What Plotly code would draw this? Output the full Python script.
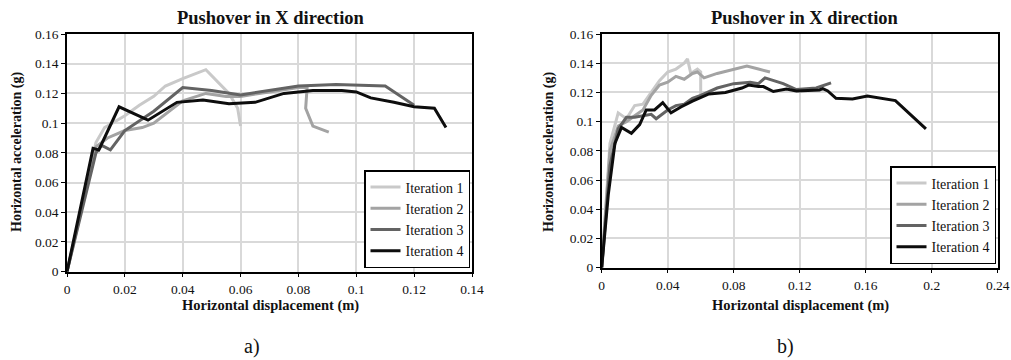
import plotly.graph_objects as go

# ---- Data: panel a) ----
a1_x = [0, 0.010, 0.013, 0.020, 0.025, 0.030, 0.034, 0.040, 0.048, 0.052, 0.056, 0.059, 0.060]
a1_y = [0, 0.087, 0.097, 0.105, 0.112, 0.118, 0.125, 0.130, 0.136, 0.128, 0.120, 0.110, 0.098]
a2_x = [0, 0.010, 0.014, 0.020, 0.026, 0.030, 0.040, 0.048, 0.055, 0.060, 0.070, 0.080, 0.083, 0.0825, 0.085, 0.0905]
a2_y = [0, 0.084, 0.090, 0.095, 0.097, 0.100, 0.115, 0.120, 0.118, 0.118, 0.121, 0.124, 0.124, 0.110, 0.098, 0.094]
a3_x = [0, 0.010, 0.012, 0.015, 0.020, 0.030, 0.040, 0.050, 0.060, 0.070, 0.080, 0.093, 0.110, 0.120]
a3_y = [0, 0.080, 0.085, 0.082, 0.095, 0.108, 0.124, 0.122, 0.119, 0.122, 0.125, 0.126, 0.125, 0.112]
a4_x = [0, 0.009, 0.011, 0.018, 0.028, 0.038, 0.047, 0.056, 0.065, 0.075, 0.085, 0.095, 0.100, 0.105, 0.113, 0.120, 0.127, 0.131]
a4_y = [0, 0.083, 0.082, 0.111, 0.102, 0.114, 0.1155, 0.113, 0.114, 0.120, 0.122, 0.122, 0.121, 0.117, 0.114, 0.111, 0.110, 0.097]

# ---- Data: panel b) ----
b1_x = [0, 0.005, 0.010, 0.015, 0.020, 0.025, 0.030, 0.035, 0.040, 0.045, 0.050, 0.052, 0.054, 0.058, 0.060, 0.060]
b1_y = [0, 0.085, 0.106, 0.102, 0.111, 0.112, 0.120, 0.128, 0.134, 0.136, 0.140, 0.143, 0.133, 0.136, 0.134, 0.118]
b2_x = [0, 0.005, 0.010, 0.015, 0.020, 0.025, 0.030, 0.035, 0.040, 0.045, 0.050, 0.055, 0.058, 0.062, 0.070, 0.080, 0.088, 0.095, 0.102]
b2_y = [0, 0.080, 0.097, 0.100, 0.104, 0.108, 0.118, 0.125, 0.127, 0.131, 0.129, 0.133, 0.134, 0.130, 0.133, 0.136, 0.138, 0.136, 0.134]
b3_x = [0, 0.005, 0.010, 0.015, 0.020, 0.025, 0.030, 0.033, 0.040, 0.045, 0.050, 0.055, 0.060, 0.070, 0.080, 0.090, 0.095, 0.099, 0.110, 0.118, 0.130, 0.139]
b3_y = [0, 0.070, 0.095, 0.103, 0.103, 0.104, 0.105, 0.102, 0.108, 0.111, 0.112, 0.116, 0.118, 0.123, 0.126, 0.127, 0.126, 0.130, 0.126, 0.122, 0.123, 0.1265]
b4_x = [0, 0.004, 0.008, 0.012, 0.018, 0.023, 0.027, 0.032, 0.037, 0.042, 0.048, 0.055, 0.065, 0.075, 0.085, 0.089, 0.095, 0.098, 0.104, 0.112, 0.118, 0.126, 0.132, 0.134, 0.137, 0.142, 0.152, 0.161, 0.170, 0.178, 0.1965]
b4_y = [0, 0.050, 0.085, 0.096, 0.092, 0.098, 0.108, 0.108, 0.113, 0.106, 0.110, 0.114, 0.119, 0.120, 0.123, 0.125, 0.124, 0.124, 0.1206, 0.1224, 0.121, 0.1215, 0.1217, 0.1226, 0.121, 0.116, 0.1155, 0.1176, 0.116, 0.1144, 0.095]

names = ["Iteration 1", "Iteration 2", "Iteration 3", "Iteration 4"]
colors = ["#c9c9c9", "#a3a3a3", "#636363", "#0d0d0d"]

x_ticks_a = [0, 0.02, 0.04, 0.06, 0.08, 0.1, 0.12, 0.14]
x_ticks_b = [0, 0.04, 0.08, 0.12, 0.16, 0.2, 0.24]
y_ticks = [0, 0.02, 0.04, 0.06, 0.08, 0.1, 0.12, 0.14, 0.16]

W, H = 1011, 360
def px(x): return x / W
def py(y): return 1 - y / H

FONT = "Liberation Serif"

fig = go.Figure()
for xs, ys, n, c in zip([a1_x, a2_x, a3_x, a4_x], [a1_y, a2_y, a3_y, a4_y], names, colors):
    fig.add_trace(go.Scatter(x=xs, y=ys, mode="lines", name=n, line=dict(color=c, width=3),
                             xaxis="x", yaxis="y", legend="legend"))
for xs, ys, n, c in zip([b1_x, b2_x, b3_x, b4_x], [b1_y, b2_y, b3_y, b4_y], names, colors):
    fig.add_trace(go.Scatter(x=xs, y=ys, mode="lines", name=n, line=dict(color=c, width=3),
                             xaxis="x2", yaxis="y2", legend="legend2"))

axcommon = dict(showgrid=True, gridcolor="#d9d9d9", gridwidth=1.5, zeroline=False,
                showline=True, linecolor="#000000", linewidth=1.5, mirror=True,
                ticks="outside", ticklen=4, tickcolor="#000000", automargin=False,
                tickfont=dict(family=FONT, size=13.5, color="#111111"))

fig.update_layout(
    width=W, height=H, margin=dict(l=0, r=0, t=0, b=0, autoexpand=False),
    paper_bgcolor="white", plot_bgcolor="white",
    font=dict(family=FONT, color="#111111"),
    xaxis=dict(domain=[px(67), px(472)], range=[0, 0.14], tickvals=x_ticks_a,
               ticktext=[f"{v:g}" for v in x_ticks_a], anchor="y", **axcommon),
    yaxis=dict(domain=[py(271.7), py(34)], range=[0, 0.16], tickvals=y_ticks,
               ticktext=[f"{v:g}" for v in y_ticks], anchor="x", **axcommon),
    xaxis2=dict(domain=[px(601.7), px(997.7)], range=[0, 0.24], tickvals=x_ticks_b,
                ticktext=[f"{v:g}" for v in x_ticks_b], anchor="y2", **axcommon),
    yaxis2=dict(domain=[py(267.7), py(34)], range=[0, 0.16], tickvals=y_ticks,
                ticktext=[f"{v:g}" for v in y_ticks], anchor="x2", **axcommon),
    legend=dict(x=px(470), y=py(268), xanchor="right", yanchor="bottom",
                bgcolor="white", bordercolor="#000000", borderwidth=1.5,
                font=dict(family=FONT, size=14, color="#111111"), itemwidth=30,
                tracegroupgap=0),
    legend2=dict(x=px(996), y=py(264), xanchor="right", yanchor="bottom",
                 bgcolor="white", bordercolor="#000000", borderwidth=1.5,
                 font=dict(family=FONT, size=14, color="#111111"), itemwidth=30,
                 tracegroupgap=0),
    showlegend=True,
)

ann = []
def A(text, x, y, size, bold=False, angle=0):
    ann.append(dict(text=f"<b>{text}</b>" if bold else text, x=px(x), y=py(y),
                    xref="paper", yref="paper", showarrow=False, textangle=angle,
                    font=dict(family=FONT, size=size, color="#111111"),
                    xanchor="center", yanchor="middle"))

A("Pushover in X direction", 271, 18, 18.5, bold=True)
A("Pushover in X direction", 805, 18, 18.5, bold=True)
A("Horizontal displacement (m)", 270, 305, 14.5, bold=True)
A("Horizontal displacement (m)", 800, 305, 14.5, bold=True)
A("Horizontal acceleration (g)", 17, 152, 14, bold=True, angle=-90)
A("Horizontal acceleration (g)", 549, 152, 14, bold=True, angle=-90)
A("a)", 252, 346, 20)
A("b)", 785, 346, 20)
fig.update_layout(annotations=ann)

fig.write_html("out.html", config={"displayModeBar": False},
               post_script="document.body.style.margin='0';document.body.style.overflow='hidden';")
